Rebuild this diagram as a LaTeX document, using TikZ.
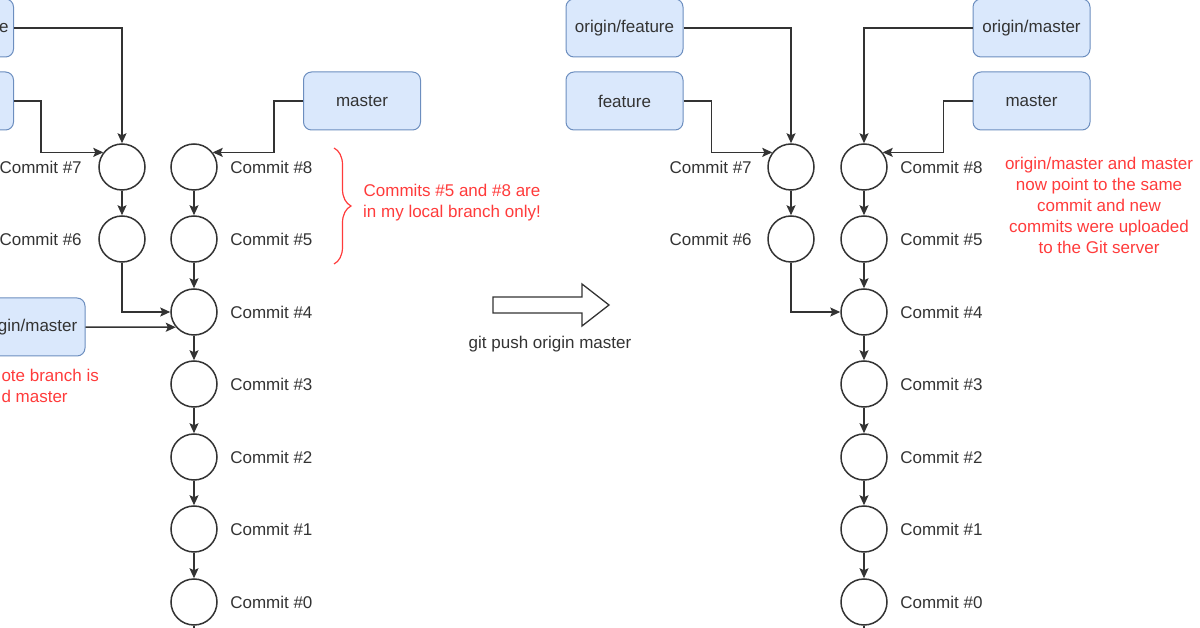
\documentclass[tikz,border=0pt]{standalone}
\usepackage{fontspec}
\setmainfont{Liberation Sans}
\usetikzlibrary{arrows.meta,decorations.pathreplacing}

\definecolor{boxfill}{HTML}{DAE8FC}
\definecolor{boxdraw}{HTML}{6C8EBF}
\definecolor{hinweis}{HTML}{FF3B3B}
\definecolor{linie}{HTML}{333333}

\begin{document}
\begin{tikzpicture}[
    x=1pt, y=-1pt,
    >={Stealth[length=10pt,width=9pt,inset=2pt]},
    font=\fontsize{17pt}{21pt}\selectfont,
    commit/.style = {draw=linie, circle, fill=white, line width=1.5pt, minimum size=46pt, inner sep=0pt},
    branch/.style = {draw=boxdraw, fill=boxfill, rounded corners=8pt, line width=1pt, minimum width=117pt, minimum height=58pt, text=linie},
    note/.style   = {text=hinweis, align=center},
    link/.style   = {->, draw=linie, line width=1.5pt},
    every label/.style = {text=linie},
    label distance=9pt,
  ]

	\useasboundingbox (0,0) rectangle (1200,628);
	\clip (0,0) rectangle (1200,628);

	% vor dem Push: Branches
	\node (Aof) at (-45,28) [branch, text width=107pt, align=right]{e};
	\node (Af) at (-45,101) [branch]{};
	\node (Am) at (362,101) [branch]{master};
	\node (Aom) at (26.5,327) [branch, label = {[anchor=east, inner sep=0pt, label distance=-8pt]east:gin/master}]{};

	% vor dem Push: Commits
	\node (A7) at (122,167) [commit, label = {[label distance=13pt]left:Commit \#7}]{};
	\node (A6) at (122,239) [commit, label = {[label distance=13pt]left:Commit \#6}]{};
	\node (A8) at (194,167) [commit, label = {right:Commit \#8}]{};
	\node (A5) at (194,239) [commit, label = {right:Commit \#5}]{};
	\node (A4) at (194,312) [commit, label = {right:Commit \#4}]{};
	\node (A3) at (194,384) [commit, label = {right:Commit \#3}]{};
	\node (A2) at (194,457) [commit, label = {right:Commit \#2}]{};
	\node (A1) at (194,529) [commit, label = {right:Commit \#1}]{};
	\node (A0) at (194,602) [commit, label = {right:Commit \#0}]{};
	\coordinate (Aend) at (194,660);

	% vor dem Push: Pfeile
	\draw[link] (Aof.east) -| (A7.north);
	\draw[link] (Af.east) -- ++(27,0) |- (A7.142);
	\draw[link] (Am.west) -- ++(-29,0) |- (A8.38);
	\draw[link] (Aom.east) -- (A4.220);
	\draw[link] (A7) -- (A6);
	\draw[link] (A6) |- (A4);
	\draw[link] (A8) -- (A5);
	\draw[link] (A5) -- (A4);
	\draw[link] (A4) -- (A3);
	\draw[link] (A3) -- (A2);
	\draw[link] (A2) -- (A1);
	\draw[link] (A1) -- (A0);
	\draw[link] (A0) -- (Aend);

	% Hinweise links
	\draw[hinweis, line width=1.2pt, decorate, decoration={brace, amplitude=17pt}] (334,148) -- (334,264);
	\node (hint1) at (452,203) [note]{Commits \#5 and \#8 are\\in my local branch only!};
	\node (hint2) at (-2,386) [note, align=left, anchor=west]{ote branch is\\d master};

	% git push
	\draw[linie, line width=1.3pt] (493,297) -- (582,297) -- (582,284) -- (609,305) -- (582,326) -- (582,313) -- (493,313) -- cycle;
	\node (push) at (550,344) [text=linie]{git push origin master};

	% nach dem Push: Branches
	\node (Bof) at (624.5,28) [branch]{origin/feature};
	\node (Bf) at (624.5,101) [branch]{feature};
	\node (Bom) at (1031.5,28) [branch]{origin/master};
	\node (Bm) at (1031.5,101) [branch]{master};

	% nach dem Push: Commits
	\node (B7) at (791,167) [commit, label = {[label distance=12pt]left:Commit \#7}]{};
	\node (B6) at (791,239) [commit, label = {[label distance=12pt]left:Commit \#6}]{};
	\node (B8) at (864,167) [commit, label = {right:Commit \#8}]{};
	\node (B5) at (864,239) [commit, label = {right:Commit \#5}]{};
	\node (B4) at (864,312) [commit, label = {right:Commit \#4}]{};
	\node (B3) at (864,384) [commit, label = {right:Commit \#3}]{};
	\node (B2) at (864,457) [commit, label = {right:Commit \#2}]{};
	\node (B1) at (864,529) [commit, label = {right:Commit \#1}]{};
	\node (B0) at (864,602) [commit, label = {right:Commit \#0}]{};
	\coordinate (Bend) at (864,660);

	% nach dem Push: Pfeile
	\draw[link] (Bof.east) -| (B7.north);
	\draw[link] (Bf.east) -- ++(28,0) |- (B7.142);
	\draw[link] (Bom.west) -| (B8.north);
	\draw[link] (Bm.west) -- ++(-29,0) |- (B8.38);
	\draw[link] (B7) -- (B6);
	\draw[link] (B6) |- (B4);
	\draw[link] (B8) -- (B5);
	\draw[link] (B5) -- (B4);
	\draw[link] (B4) -- (B3);
	\draw[link] (B3) -- (B2);
	\draw[link] (B2) -- (B1);
	\draw[link] (B1) -- (B0);
	\draw[link] (B0) -- (Bend);

	% Hinweis rechts
	\node (hint3) at (1099,205) [note]{origin/master and master\\now point to the same\\commit and new\\commits were uploaded\\to the Git server};

\end{tikzpicture}
\end{document}
